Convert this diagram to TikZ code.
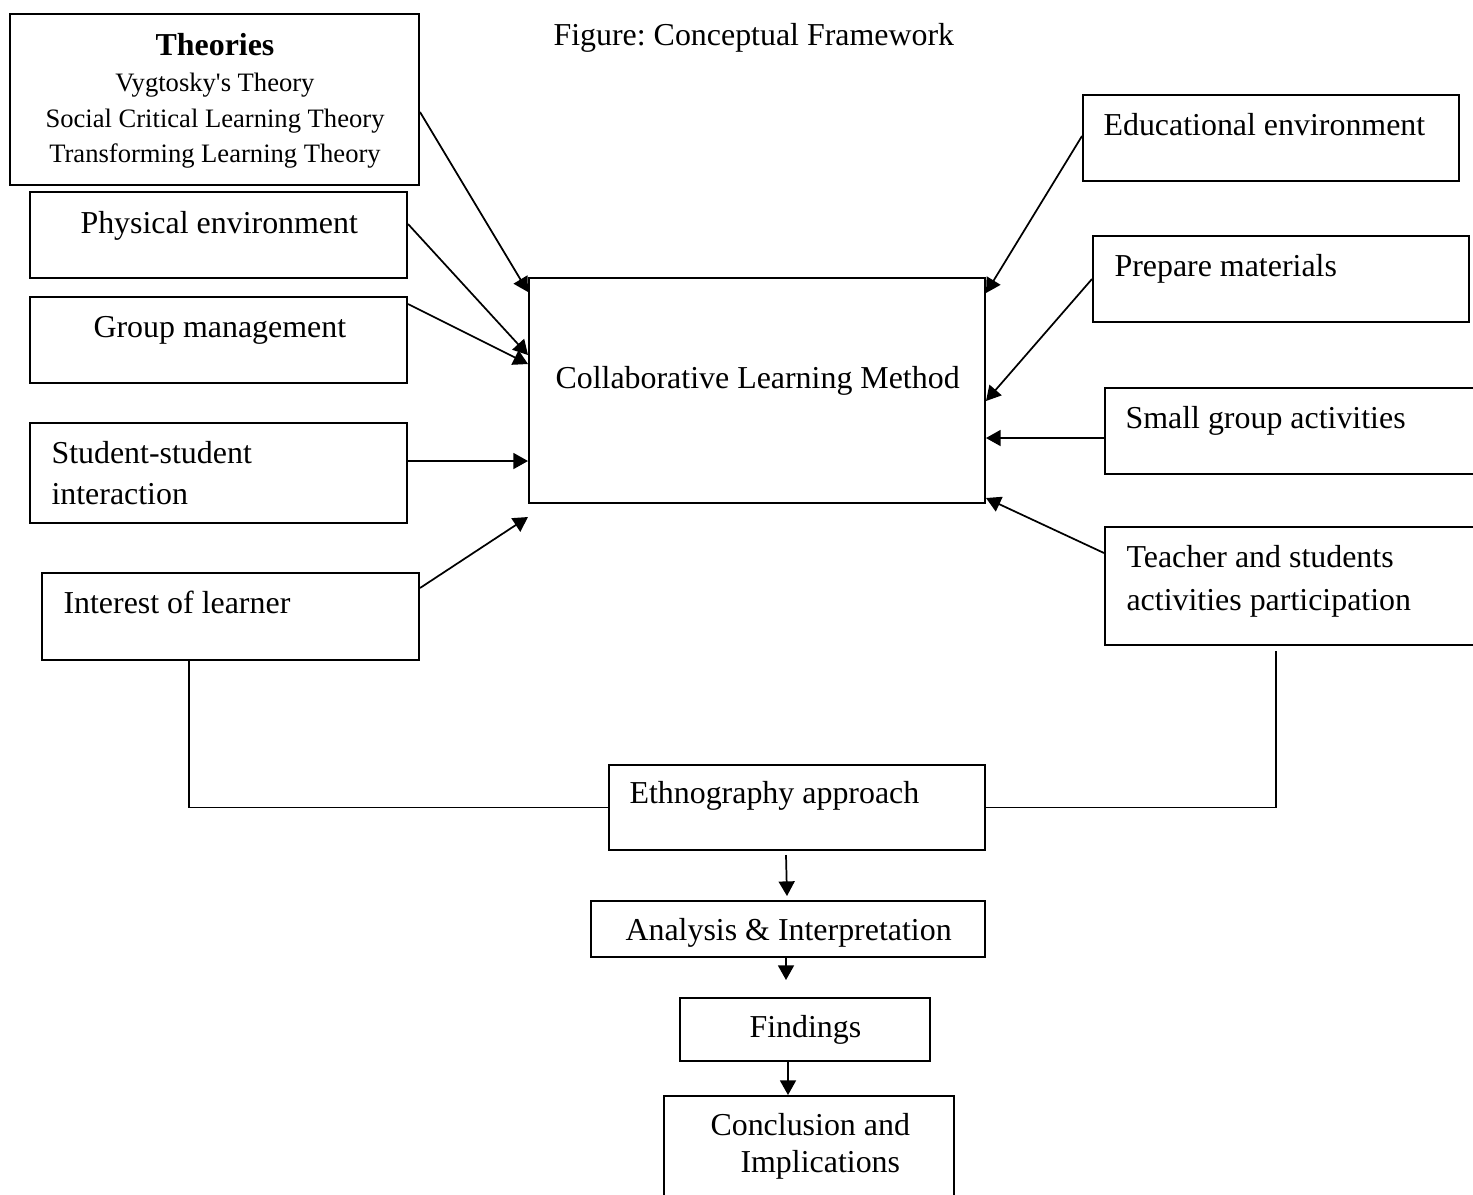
\documentclass[tikz,border=0pt]{standalone}
\usepackage{fontspec}
\setmainfont{Liberation Serif}
\usetikzlibrary{fit,calc,arrows.meta}
\frenchspacing
\tikzset{
  boxnode/.style={draw, line width=0.75pt, inner sep=0pt, rectangle},
  txt/.style={inner sep=0pt, anchor=base west, font=\fontsize{12}{14}\selectfont},
  smalltxt/.style={inner sep=0pt, anchor=base, font=\fontsize{10}{12}\selectfont},
  arr/.style={line width=0.65pt, -{Triangle[length=5.5pt,width=6pt]}},
  link/.style={line width=0.65pt}
}
\begin{document}
\begin{tikzpicture}[x=0.376pt, y=-0.376pt]
\useasboundingbox (0,0) rectangle (1473,1194);
% boxes
\node[boxnode, fit={(10,14) (419,185)}] (theo) {};
\node[boxnode, fit={(30,192) (407,278)}] (phys) {};
\node[boxnode, fit={(30,297) (407,383)}] (grp) {};
\node[boxnode, fit={(30,423) (407,523)}] (stu) {};
\node[boxnode, fit={(42,573) (419,660)}] (intr) {};
\node[boxnode, fit={(529,278) (985,503)}] (clm) {};
\node[boxnode, fit={(1083,95) (1459,181)}] (edu) {};
\node[boxnode, fit={(1093,236) (1469,322)}] (prep) {};
\node[boxnode, fit={(1105,388) (1500,474)}] (small) {};
\node[boxnode, fit={(1105,527) (1500,645)}] (tea) {};
\node[boxnode, fit={(609,765) (985,850)}] (ethno) {};
\node[boxnode, fit={(591,901) (985,957)}] (ana) {};
\node[boxnode, fit={(680,998) (930,1061)}] (find) {};
\node[boxnode, fit={(664,1096) (954,1220)}] (conc) {};
% texts
\node[txt] (title) at (553,45) {Figure: Conceptual Framework};
\node[inner sep=0pt, anchor=base, font=\fontsize{12}{14}\selectfont\bfseries] (theo-h) at (215,55) {Theories};
\node[smalltxt] (theo-a) at (215,91) {Vygtosky\textquotesingle s Theory};
\node[smalltxt] (theo-b) at (215,127) {Social Critical Learning Theory};
\node[smalltxt] (theo-c) at (215,162) {Transforming Learning Theory};
\node[txt] (phys-t) at (80,233) {Physical environment};
\node[txt] (grp-t) at (93,337) {Group management};
\node[txt] (stu-t1) at (51,463) {Student-student};
\node[txt] (stu-t2) at (51,504) {interaction};
\node[txt] (intr-t) at (63,613) {Interest of learner};
\node[txt] (clm-t) at (555,388) {Collaborative Learning Method};
\node[txt] (edu-t) at (1103,135) {Educational environment};
\node[txt] (prep-t) at (1114,276) {Prepare materials};
\node[txt] (small-t) at (1125,428) {Small group activities};
\node[txt] (tea-t1) at (1126,567) {Teacher and students};
\node[txt] (tea-t2) at (1126,610) {activities participation};
\node[txt] (ethno-t) at (629,803) {Ethnography approach};
\node[txt] (ana-t) at (625,940) {Analysis \& Interpretation};
\node[txt] (find-t) at (749,1037) {Findings};
\node[txt] (conc-t1) at (710,1135) {Conclusion and};
\node[txt] (conc-t2) at (740,1172) {Implications};
% arrows into the method box
\draw[arr] ($(theo.east)+(0,12.5)$) -- ($(clm.north west)+(0,15)$);
\draw[arr] ($(phys.east)+(0,-11)$) -- ($(clm.north west)+(0,78)$);
\draw[arr] ($(grp.north east)+(0,8)$) -- ($(clm.north west)+(0,87)$);
\draw[arr] ($(stu.east)+(0,-12)$) coordinate (s1) -- (s1 -| clm.west);
\draw[arr] ($(intr.north east)+(0,16)$) -- ($(clm.south west)+(0,13)$);
\draw[arr] ($(edu.west)+(0,-2)$) -- ($(clm.north east)+(0,16)$);
\draw[arr] (prep.west) -- ($(clm.east)+(0,10.5)$);
\draw[arr] ($(small.west)+(0,7)$) coordinate (s2) -- (s2 -| clm.east);
\draw[arr] ($(tea.north west)+(0,27)$) -- ($(clm.south east)+(0,-6)$);
% links to ethnography
\draw[link] ($(intr.south west)+(148,0)$) |- (ethno.west);
\draw[link] ($(tea.south west)+(172,5)$) |- (ethno.east);
% bottom chain
\draw[arr] ($(ethno.south)+(-11,4)$) -- ($(ana.north)+(-1,-4)$);
\draw[arr] ($(ana.south)+(-2,0)$) coordinate (a1) -- ($(find.north)+(-19,-17)$);
\draw[arr] ($(find.south)+(-17,0)$) coordinate (f1) -- (f1 |- conc.north);
\end{tikzpicture}
\end{document}
